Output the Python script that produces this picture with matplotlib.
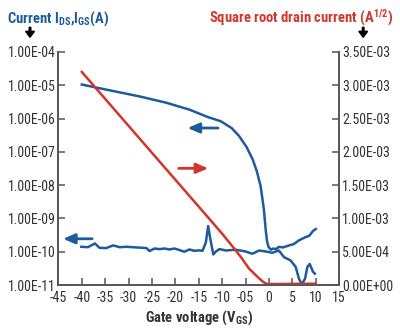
import matplotlib.pyplot as plt
import matplotlib as mpl
from matplotlib.ticker import FixedLocator, FuncFormatter, NullLocator

mpl.rcParams['font.family'] = ['Roboto Condensed', 'DejaVu Sans']
mpl.rcParams['mathtext.fontset'] = 'custom'
mpl.rcParams['mathtext.rm'] = 'Roboto Condensed'
mpl.rcParams['mathtext.bf'] = 'Roboto Condensed:bold'

BLUE = '#1d5b9c'
RED = '#d2352b'
GRAY = '#555555'

# drain current (transfer curve), left log axis
vgs_d = [-40, -35, -27.6, -22, -17, -13, -10.3, -8, -6.4, -4.8, -3.5, -2.6, -1.8, -1.1, -0.7, -0.4,
         -0.1, 0.4, 0.9, 1.5, 2.1, 3.0, 4.3, 5.3, 6.4, 7.8, 8.6, 9.4, 10.0]
ids = [1.05e-5, 7.5e-6, 4.6e-6, 3.0e-6, 1.85e-6, 1.1e-6, 8.3e-7, 5.2e-7, 3.0e-7, 1.4e-7, 6e-8, 2.6e-8,
       9.5e-9, 1.9e-9, 4.5e-10, 2.0e-10, 1.4e-10, 1.15e-10, 1.25e-10, 1.2e-10, 1.4e-10, 1.35e-10,
       1.55e-10, 1.7e-10, 2.2e-10, 2.75e-10, 3.0e-10, 4.2e-10, 4.8e-10]

# gate leakage current, left log axis
vgs_g = [-40.1, -38.7, -37.2, -36.2, -34.8, -33.3, -31.9, -30.5, -29.1, -27.7, -26.2, -25.5, -24.5,
         -23.4, -22.3, -21.3, -20.2, -19.2, -18.1, -17.0, -16.0, -14.9, -14.2, -13.5, -13.0, -12.6,
         -11.9, -11.4, -10.6, -9.2, -7.1, -5.0, -3.6, -2.1, -0.7, 0.7, 2.1, 3.2, 4.6, 5.7, 6.4, 7.0,
         7.7, 8.2, 8.7, 9.4, 9.8]
igs = [1.41e-10, 1.37e-10, 1.77e-10, 1.31e-10, 1.29e-10, 1.55e-10, 1.37e-10, 1.41e-10, 1.37e-10,
       1.33e-10, 1.29e-10, 1.05e-10, 1.25e-10, 1.2e-10, 1.25e-10, 1.17e-10, 1.25e-10, 1.13e-10,
       1.0e-10, 1.17e-10, 1.07e-10, 1.1e-10, 1.07e-10, 1.9e-10, 5.9e-10, 2.7e-10, 8.3e-11, 1.0e-10,
       1.2e-10, 1.09e-10, 1.15e-10, 1.02e-10, 8.7e-11, 1.09e-10, 1.02e-10, 9.3e-11, 1.09e-10, 6.9e-11,
       5.5e-11, 3.5e-11, 1.55e-11, 1.05e-11, 1.55e-11, 3.5e-11, 4.3e-11, 2.5e-11, 2.2e-11]

# square root drain current, right linear axis
vgs_s = [-40, -30, -20, -14.8, -10, -7.8, -6.0, -4.3, -3.0, -2.1, -1.2, -0.4, 0, 5, 10]
sqrt_id = [3.2e-3, 2.39e-3, 1.58e-3, 1.16e-3, 7.7e-4, 5.8e-4, 4.2e-4, 2.5e-4, 1.6e-4, 1.0e-4,
           4.5e-5, 1.5e-5, 1.5e-5, 1.8e-5, 2.0e-5]

xticks = [-45, -40, -35, -30, -25, -20, -15, -10, -5, 0, 5, 10, 15]
xtick_labels = ['-45', '-40', '-35', '-30', '-25', '-20', '-15', '-10', '-05', '0', '5', '10', '15']
left_ticks = [1e-11, 1e-10, 1e-9, 1e-8, 1e-7, 1e-6, 1e-5, 1e-4]
right_ticks = [0, 5e-4, 1e-3, 1.5e-3, 2e-3, 2.5e-3, 3e-3, 3.5e-3]

fig = plt.figure(figsize=(4, 3.33), dpi=100)
ax = fig.add_axes([0.146, 0.144, 0.702, 0.70])
ax2 = ax.twinx()

ax.plot(vgs_d, ids, color=BLUE, lw=1.8, zorder=3)
ax.plot(vgs_g, igs, color=BLUE, lw=1.8, zorder=3)
ax2.plot(vgs_s, sqrt_id, color=RED, lw=1.8)

ax.set_yscale('log')
ax.set_xlim(-45, 15)
ax.set_ylim(1e-11, 1e-4)
ax2.set_ylim(0, 3.5e-3)

ax.xaxis.set_major_locator(FixedLocator(xticks))
ax.set_xticklabels(xtick_labels)
ax.yaxis.set_major_locator(FixedLocator(left_ticks))
ax.yaxis.set_minor_locator(NullLocator())
ax.yaxis.set_major_formatter(FuncFormatter(lambda v, p: f'{v:.2E}'))
ax2.yaxis.set_major_locator(FixedLocator(right_ticks))
ax2.yaxis.set_major_formatter(FuncFormatter(lambda v, p: f'{v:.2E}'))

for a in (ax, ax2):
    a.spines['top'].set_visible(False)
    for s in ('left', 'right', 'bottom'):
        a.spines[s].set_color(GRAY)
        a.spines[s].set_linewidth(1.2)
    a.tick_params(direction='in', length=5, width=1.1, color=GRAY, labelcolor='#333333',
                  labelsize=10, pad=2)
ax.tick_params(axis='x', pad=4)

ax.set_xlabel('Gate voltage (V$\\mathbf{_{GS}}$)', fontsize=10.5, fontweight='bold',
              color='#333333', labelpad=3)

# direction arrows
ax.annotate('', xy=(-18.0, 5.2e-7), xytext=(-10.3, 5.2e-7),
            arrowprops=dict(arrowstyle='-|>,head_length=0.7,head_width=0.3', color=BLUE, lw=2))
ax.annotate('', xy=(-12.4, 3.2e-8), xytext=(-19.9, 3.2e-8),
            arrowprops=dict(arrowstyle='-|>,head_length=0.7,head_width=0.3', color=RED, lw=2))
ax.annotate('', xy=(-44.6, 2.45e-10), xytext=(-37.2, 2.45e-10),
            arrowprops=dict(arrowstyle='-|>,head_length=0.7,head_width=0.3', color=BLUE, lw=2),
            annotation_clip=False)

# axis headers
fig.text(0.017, 0.943, 'Current I$\\mathbf{_{DS}}$,I$\\mathbf{_{GS}}$(A)', color=BLUE,
         fontsize=10.5, fontweight='bold', ha='left', va='center')
fig.text(0.983, 0.948, 'Square root drain current (A$\\mathbf{^{1/2}}$)', color=RED,
         fontsize=10.5, fontweight='bold', ha='right', va='center')
fig.patches.append(mpl.patches.FancyArrow(0.075, 0.918, 0, -0.03, width=0.004, head_width=0.022,
                                          head_length=0.018, length_includes_head=True,
                                          color='black', transform=fig.transFigure))
fig.patches.append(mpl.patches.FancyArrow(0.908, 0.918, 0, -0.03, width=0.004, head_width=0.022,
                                          head_length=0.018, length_includes_head=True,
                                          color='black', transform=fig.transFigure))

fig.savefig('out.png', dpi=100)
